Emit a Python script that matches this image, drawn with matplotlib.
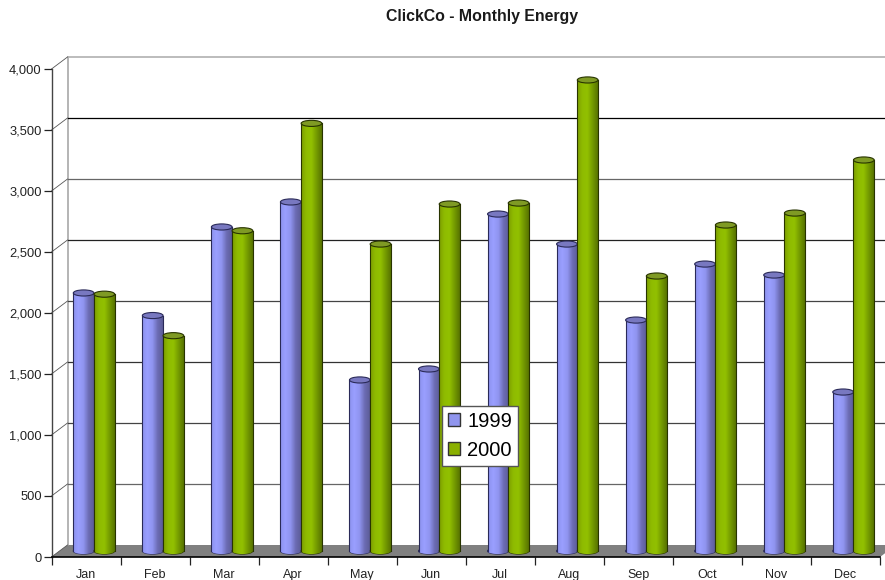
import matplotlib
matplotlib.use("Agg")
import numpy as np
import matplotlib.pyplot as plt
from matplotlib.colors import LinearSegmentedColormap
from matplotlib.patches import Ellipse, Polygon
from matplotlib.transforms import Affine2D

plt.rcParams['font.family'] = ['Liberation Sans', 'DejaVu Sans']

months = ['Jan', 'Feb', 'Mar', 'Apr', 'May', 'Jun', 'Jul', 'Aug', 'Sep', 'Oct', 'Nov', 'Dec']
energy_1999 = [2115, 1930, 2656, 2861, 1402, 1492, 2762, 2516, 1893, 2352, 2262, 1303]
energy_2000 = [2105, 1765, 2625, 3505, 2516, 2844, 2852, 3861, 2254, 2672, 2770, 3205]
y_ticks = [0, 500, 1000, 1500, 2000, 2500, 3000, 3500, 4000]
grid_colors = ['#808080', '#666666', '#444444', '#333333', '#444444', '#222222', '#666666', '#000000', '#b0b0b0']

W, H = 885, 580
fig = plt.figure(figsize=(W / 100, H / 100), dpi=100, facecolor='white')
ax = fig.add_axes([51.5 / W, (H - 557) / H, (880 - 51.5) / W, (557 - 69) / H], facecolor='none')
ax.set_xlim(0, 12)
ax.set_ylim(0, 4000)

# Depth planes of the pseudo-3D box, shifted in display pixels from the front plane
back = ax.transData + Affine2D().translate(16, 12)
mid = ax.transData + Affine2D().translate(8, 6)

# Floor
p0 = ax.transData.transform((0, 0))
p1 = ax.transData.transform((12, 0))
floor = Polygon(np.array([p0, p0 + (16, 12), p1 + (16, 12), p1]) / 100, closed=True,
                facecolor='#808080', edgecolor='none', zorder=0.5, clip_on=False,
                transform=fig.dpi_scale_trans)
ax.add_patch(floor)

# Back wall edge, grid lines and the diagonal joins to the front axis
ax.plot([0, 0], [0, 4000], transform=back, color='#a0a0a0', lw=1.1, clip_on=False, zorder=1)
for v, c in zip(y_ticks, grid_colors):
    if v > 0:
        ax.plot([0, 12], [v, v], transform=back, color=c, lw=1.2 if v == 4000 else 0.9,
                clip_on=False, zorder=1)
    a = ax.transData.transform((0, v))
    ax.plot([a[0], a[0] + 16], [a[1], a[1] + 12], transform=None, color='#555555', lw=0.6,
            clip_on=False, zorder=1)

BAR_W = 0.3
CAP_H = 50
cmap_blue = LinearSegmentedColormap.from_list('b', ['#8c92ee', '#9a9fff', '#9095f0', '#6c6cb4', '#5c5c98'])
cmap_green = LinearSegmentedColormap.from_list('g', ['#7c9e00', '#8fbb00', '#92c000', '#749a00', '#587400'])
ramp = np.linspace(0, 1, 64).reshape(1, -1)


def shade(x0, x1, y0, y1, cmap, z, clip=None):
    im = ax.imshow(ramp, cmap=cmap, extent=(x0, x1, y0, y1), aspect='auto', transform=mid,
                   zorder=z, interpolation='bilinear', clip_on=clip is not None)
    if clip is not None:
        im.set_clip_path(clip)


def cylinders(xs, values, cmap, cap_color, edge, label, z):
    bars = ax.bar(xs, values, BAR_W, color=cmap(0.4), edgecolor='none',
                  transform=mid, zorder=z, label=label)
    for x, v in zip(xs, values):
        x0, x1 = x - BAR_W / 2, x + BAR_W / 2
        foot = Ellipse((x, 0), BAR_W, CAP_H, facecolor=cmap(0.4), edgecolor=edge, lw=0.8,
                       transform=mid, zorder=z, clip_on=False)
        ax.add_patch(foot)
        shade(x0, x1, -CAP_H, CAP_H, cmap, z + 0.01, clip=foot)
        shade(x0, x1, 0, v, cmap, z + 0.02)
        ax.plot([x0, x0], [0, v], transform=mid, color=edge, lw=0.8, zorder=z + 0.03, clip_on=False)
        ax.plot([x1, x1], [0, v], transform=mid, color=edge, lw=0.8, zorder=z + 0.03, clip_on=False)
        cap = Ellipse((x, v), BAR_W, CAP_H, facecolor=cap_color, edgecolor=edge, lw=0.8,
                      transform=mid, zorder=z + 0.04, clip_on=False)
        ax.add_patch(cap)
    return bars


centers = np.arange(len(months)) + 0.5
b99 = cylinders(centers - BAR_W / 2, energy_1999, cmap_blue, '#7878c0', '#2a2a58', '1999', 2)
b00 = cylinders(centers + BAR_W / 2, energy_2000, cmap_green, '#7f9a24', '#283400', '2000', 3)

# Front axes
for side in ('top', 'right'):
    ax.spines[side].set_visible(False)
ax.spines['left'].set_color('#444444')
ax.spines['left'].set_linewidth(1.0)
ax.spines['bottom'].set_color('black')
ax.spines['bottom'].set_linewidth(1.2)
ax.set_zorder(1)

ax.set_yticks(y_ticks)
ax.set_yticklabels([f'{v:,}' for v in y_ticks])
ax.tick_params(axis='y', length=6, width=0.9, color='#222222', pad=1, labelsize=9.3, labelcolor='#222222')
ax.set_xticks(np.arange(13))
ax.set_xticklabels([])
ax.set_xticks(centers, minor=True)
ax.set_xticklabels(months, minor=True)
ax.tick_params(axis='x', which='major', length=6, width=0.9, color='#222222')
ax.tick_params(axis='x', which='minor', length=0, pad=8.5, labelsize=9.0, labelcolor='#222222')

fig.text(482 / W, 1 - 17 / H, 'ClickCo - Monthly Energy', ha='center', va='center',
         fontsize=11.4, fontweight='bold', color='#1a1a1a')

leg = ax.legend(handles=[b99, b00], loc='center',
                bbox_to_anchor=(480 / W, 1 - 436 / H), bbox_transform=fig.transFigure,
                fontsize=14.5, frameon=True, fancybox=False, framealpha=1,
                edgecolor='#555555', facecolor='white', handlelength=0.62, handleheight=0.62,
                handletextpad=0.35, labelspacing=0.5, borderpad=0.3, borderaxespad=0)
leg.get_frame().set_linewidth(1.0)
leg.set_zorder(10)
for h, col in zip(leg.get_patches(), ['#9095ee', '#8ab000']):
    h.set_facecolor(col)
    h.set_edgecolor('#333333')
    h.set_linewidth(1.0)

ax.set_xlim(0, 12)
ax.set_ylim(0, 4000)
fig.savefig('out.png', dpi=100)
